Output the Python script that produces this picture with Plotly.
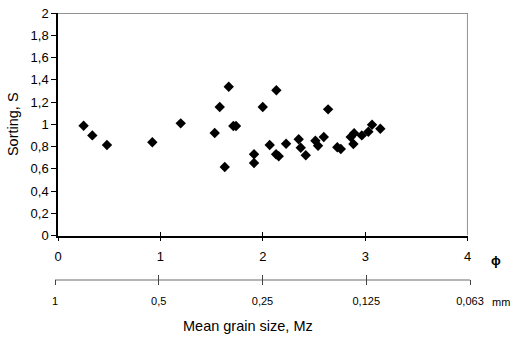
import plotly.graph_objects as go

# Data: mean grain size (phi) and sorting S
mz_phi = [0.25, 0.335, 0.478, 0.921, 1.198,
          1.667, 2.132, 1.579, 1.999, 1.712, 1.738, 1.530, 2.067, 2.227,
          1.914, 1.914, 2.129, 2.155, 1.628,
          2.637, 2.350, 2.370, 2.419, 2.513, 2.539, 2.595, 2.727, 2.761,
          2.858, 2.891, 2.884, 2.966, 3.030, 3.066, 3.147]
sorting = [0.987, 0.900, 0.813, 0.838, 1.008,
           1.337, 1.305, 1.155, 1.155, 0.984, 0.984, 0.921, 0.813, 0.825,
           0.730, 0.652, 0.730, 0.712, 0.616,
           1.134, 0.865, 0.789, 0.721, 0.852, 0.807, 0.885, 0.793, 0.778,
           0.885, 0.919, 0.822, 0.900, 0.933, 0.996, 0.960]

phi_ticks = [0, 1, 2, 3, 4]
mm_labels = ["1", "0,5", "0,25", "0,125", "0,063"]

FONT = "Arial, Liberation Sans, sans-serif"

W, H = 511, 347
ML, MR, MT, MB = 55, 41, 13, 40
PW = W - ML - MR
PH = H - MT - MB

x_dom = [(58 - ML) / PW, (467.7 - ML) / PW]
y_dom = [(H - MB - 235.5) / PH, 1]
x2_pos = (H - MB - 279.5) / PH

fig = go.Figure()
# empty traces binding auxiliary axes (drawn first, below the data)
fig.add_trace(go.Scatter(x=[], y=[], xaxis="x2", yaxis="y", showlegend=False))
fig.add_trace(go.Scatter(x=[], y=[], xaxis="x3", yaxis="y", showlegend=False))
fig.add_trace(go.Scatter(x=[], y=[], xaxis="x4", yaxis="y", showlegend=False))
fig.add_trace(go.Scatter(
    x=mz_phi, y=sorting, mode="markers",
    marker=dict(symbol="diamond", size=8, color="black"),
    xaxis="x", yaxis="y", showlegend=False, hoverinfo="x+y"))

fig.update_layout(
    width=W, height=H,
    margin=dict(l=ML, r=MR, t=MT, b=MB, autoexpand=False),
    paper_bgcolor="white", plot_bgcolor="rgba(0,0,0,0)",
    separators=",.",
    font=dict(family=FONT, color="black", size=12),
    xaxis=dict(domain=x_dom, range=[0, 4], anchor="y", tickvals=phi_ticks,
               ticks="outside", ticklen=4, tickcolor="black",
               showline=True, linecolor="black", linewidth=1.5,
               showgrid=False, zeroline=False, tickfont=dict(size=13),
               ticklabelstandoff=4, automargin=False),
    xaxis4=dict(domain=x_dom, range=[0, 4], anchor="y", overlaying="x",
                tickvals=phi_ticks, ticks="inside", ticklen=4, tickcolor="black",
                showticklabels=False, showline=False, showgrid=False, zeroline=False,
                automargin=False),
    yaxis=dict(domain=y_dom, range=[0, 2], dtick=0.2, anchor="x",
               ticks="outside", ticklen=5, tickcolor="black",
               showline=True, linecolor="black", linewidth=1.5,
               showgrid=False, zeroline=False, tickfont=dict(size=13),
               title=dict(text="Sorting, S", font=dict(size=14.5), standoff=8),
               automargin=False),
    xaxis2=dict(domain=[0, 1], range=[0, 4], anchor="free", position=x2_pos,
                tickvals=phi_ticks, ticktext=mm_labels,
                ticks="outside", ticklen=5, tickcolor="#444",
                showline=True, linecolor="#b5b5b5", linewidth=1.5,
                showgrid=False, zeroline=False, tickfont=dict(size=11),
                ticklabelstandoff=7, automargin=False),
    xaxis3=dict(domain=[0, 1], range=[0, 4], anchor="free", position=x2_pos,
                overlaying="x2", tickvals=phi_ticks, ticks="inside", ticklen=5,
                tickcolor="#444", showticklabels=False, showline=False,
                showgrid=False, zeroline=False, automargin=False),
)

# top and right frame lines (grey)
fig.add_shape(type="line", xref="x", yref="y", x0=0, x1=4, y0=2, y1=2,
              line=dict(color="#6e6e6e", width=1.5))
fig.add_shape(type="line", xref="x", yref="y", x0=4, x1=4, y0=0, y1=2,
              line=dict(color="#6e6e6e", width=1.5))

fig.add_annotation(text="Mean grain size, Mz", xref="paper", yref="paper",
                   x=(248 - ML) / PW, y=(H - MB - 326) / PH,
                   showarrow=False, font=dict(size=14.5), xanchor="center", yanchor="middle")
fig.add_annotation(text="<b>ϕ</b>", xref="paper", yref="paper",
                   x=(496 - ML) / PW, y=(H - MB - 260) / PH,
                   showarrow=False, font=dict(size=13), xanchor="center", yanchor="middle")
fig.add_annotation(text="mm", xref="paper", yref="paper",
                   x=(501 - ML) / PW, y=(H - MB - 302) / PH,
                   showarrow=False, font=dict(size=11), xanchor="center", yanchor="middle")

fig.write_html("out.html", config={"displayModeBar": False},
               post_script="document.body.style.margin='0';document.body.style.padding='0';")
